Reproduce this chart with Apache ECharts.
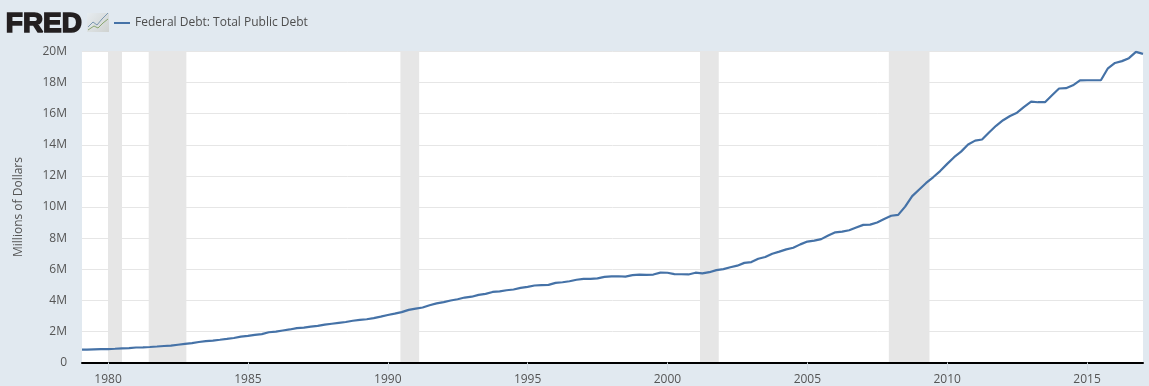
<!DOCTYPE html>
<html>
<head>
<meta charset="utf-8">
<style>
  html, body { margin: 0; padding: 0; background: #e1e9f0; }
  #chart { width: 1149px; height: 386px; }
</style>
<script src="https://cdn.jsdelivr.net/npm/echarts@6/dist/echarts.min.js"></script>
</head>
<body>
<div id="chart"></div>
<script>
const seriesName = 'Federal Debt: Total Public Debt'
const yAxisName = 'Millions of Dollars'
const firstYear = 1979

// quarterly, millions of dollars (starts 1979 Q1)
const debtValues = [
  826000, 829000, 846000, 854000,
  863000, 883000, 907000, 930000,
  964000, 971000, 998000, 1028000,
  1061000, 1080000, 1142000, 1197000,
  1245000, 1319000, 1378000, 1411000,
  1464000, 1518000, 1577000, 1665000,
  1711000, 1775000, 1824000, 1945000,
  1986000, 2059000, 2125000, 2215000,
  2246000, 2310000, 2351000, 2432000,
  2492000, 2548000, 2603000, 2684000,
  2741000, 2780000, 2858000, 2953000,
  3053000, 3144000, 3241000, 3387000,
  3466000, 3539000, 3682000, 3802000,
  3881000, 3985000, 4065000, 4177000,
  4231000, 4352000, 4412000, 4536000,
  4576000, 4646000, 4693000, 4801000,
  4865000, 4951000, 4974000, 4989000,
  5118000, 5162000, 5225000, 5323000,
  5381000, 5376000, 5413000, 5502000,
  5543000, 5548000, 5526000, 5614000,
  5652000, 5639000, 5656000, 5776000,
  5773000, 5686000, 5674000, 5662000,
  5774000, 5727000, 5807000, 5943000,
  6006000, 6126000, 6228000, 6406000,
  6460000, 6670000, 6783000, 6998000,
  7132000, 7274000, 7379000, 7596000,
  7777000, 7836000, 7933000, 8170000,
  8371000, 8420000, 8507000, 8680000,
  8849000, 8867000, 9008000, 9229000,
  9437000, 9492000, 10025000, 10700000,
  11127000, 11545000, 11910000, 12311000,
  12773000, 13202000, 13562000, 14025000,
  14270000, 14343000, 14790000, 15222000,
  15582000, 15856000, 16066000, 16433000,
  16772000, 16738000, 16738000, 17190000,
  17620000, 17640000, 17824000, 18141000,
  18152000, 18152000, 18153000, 18922000,
  19264000, 19381000, 19573000, 19977000,
  19846000
]

const recessionStarts = ['1980-01-01', '1981-06-15', '1990-06-15', '2001-03-01', '2007-12-01']
const recessionEnds = ['1980-07-01', '1982-10-20', '1991-02-15', '2001-11-01', '2009-05-15']
const xTickYears = [1980, 1985, 1990, 1995, 2000, 2005, 2010, 2015]
const xStart = '1979-01-26'
const xEnd = '2017-01-01'

const chart = echarts.init(document.getElementById('chart'), null, { renderer: 'canvas' })

// first quarter falls just left of the axis start, keep it on the edge
const seriesData = debtValues.map((v, i) => {
  const year = firstYear + Math.floor(i / 4)
  return [Math.max(Date.UTC(year, (i % 4) * 3, 1), Date.parse(xStart)), v]
})
const xTicks = xTickYears.map(y => Date.UTC(y, 0, 1))

chart.setOption({
  animation: false,
  backgroundColor: '#e1e9f0',
  textStyle: { fontFamily: '"Open Sans", sans-serif' },
  grid: { left: 82, right: 6, top: 51.5, bottom: 23.5, backgroundColor: '#fff', show: true, borderWidth: 0 },
  legend: {
    left: 109,
    top: 12,
    icon: 'rect',
    itemWidth: 16,
    itemHeight: 2,
    itemGap: 5,
    textStyle: { color: '#4d4d4d', fontSize: 12, fontFamily: '"Open Sans", sans-serif' },
    data: [seriesName]
  },
  xAxis: {
    // timestamps on a value axis, the time axis fails on customValues
    type: 'value',
    min: Date.parse(xStart),
    max: Date.parse(xEnd),
    z: 3,
    axisLine: { show: true, onZero: false, lineStyle: { color: '#000', width: 2 } },
    axisTick: { show: true, customValues: xTicks, length: 8, lineStyle: { color: '#d5dde4', width: 1 } },
    axisLabel: {
      customValues: xTicks,
      color: '#555',
      fontSize: 12,
      margin: 11,
      formatter: v => String(new Date(v).getUTCFullYear())
    },
    splitLine: { show: false }
  },
  yAxis: {
    type: 'value',
    min: 0,
    max: 20000000,
    interval: 2000000,
    name: yAxisName,
    nameLocation: 'middle',
    nameGap: 57,
    nameTextStyle: { color: '#555', fontSize: 12 },
    axisLine: { show: false },
    axisTick: { show: false },
    axisLabel: {
      color: '#555',
      fontSize: 12,
      margin: 15,
      formatter: v => (v === 0 ? '0' : v / 1000000 + 'M')
    },
    splitLine: { lineStyle: { color: '#e6e6e6', width: 1 } }
  },
  series: [{
    name: seriesName,
    type: 'line',
    data: seriesData,
    showSymbol: false,
    color: '#4572a7',
    lineStyle: { color: '#4572a7', width: 2.2 },
    markArea: {
      silent: true,
      itemStyle: { color: '#e6e6e6', opacity: 1 },
      data: recessionStarts.map((s, i) => [{ xAxis: Date.parse(s) }, { xAxis: Date.parse(recessionEnds[i]) }])
    }
  }],
  graphic: [
    {
      type: 'text',
      left: 5,
      top: 9,
      style: {
        text: 'FRED',
        fill: '#231f20',
        stroke: '#231f20',
        lineWidth: 1.6,
        fontFamily: '"Liberation Sans", Arial, sans-serif',
        fontWeight: 'bold',
        fontSize: 28
      }
    },
    {
      type: 'rect',
      shape: { x: 87, y: 13, width: 22, height: 19 },
      style: {
        fill: {
          type: 'linear', x: 0, y: 0, x2: 1, y2: 1,
          colorStops: [{ offset: 0, color: '#e6ecf0' }, { offset: 1, color: '#cfd2d0' }]
        }
      }
    },
    {
      type: 'polyline',
      shape: { points: [[88, 27], [93, 22], [97, 25], [102, 19], [108, 13]] },
      style: { stroke: '#7a97b0', lineWidth: 1, fill: 'none' }
    },
    {
      type: 'polyline',
      shape: { points: [[88, 30], [94, 26], [98, 28], [103, 23], [108, 19]] },
      style: { stroke: '#8aa66f', lineWidth: 1, fill: 'none' }
    }
  ]
})
</script>
</body>
</html>
